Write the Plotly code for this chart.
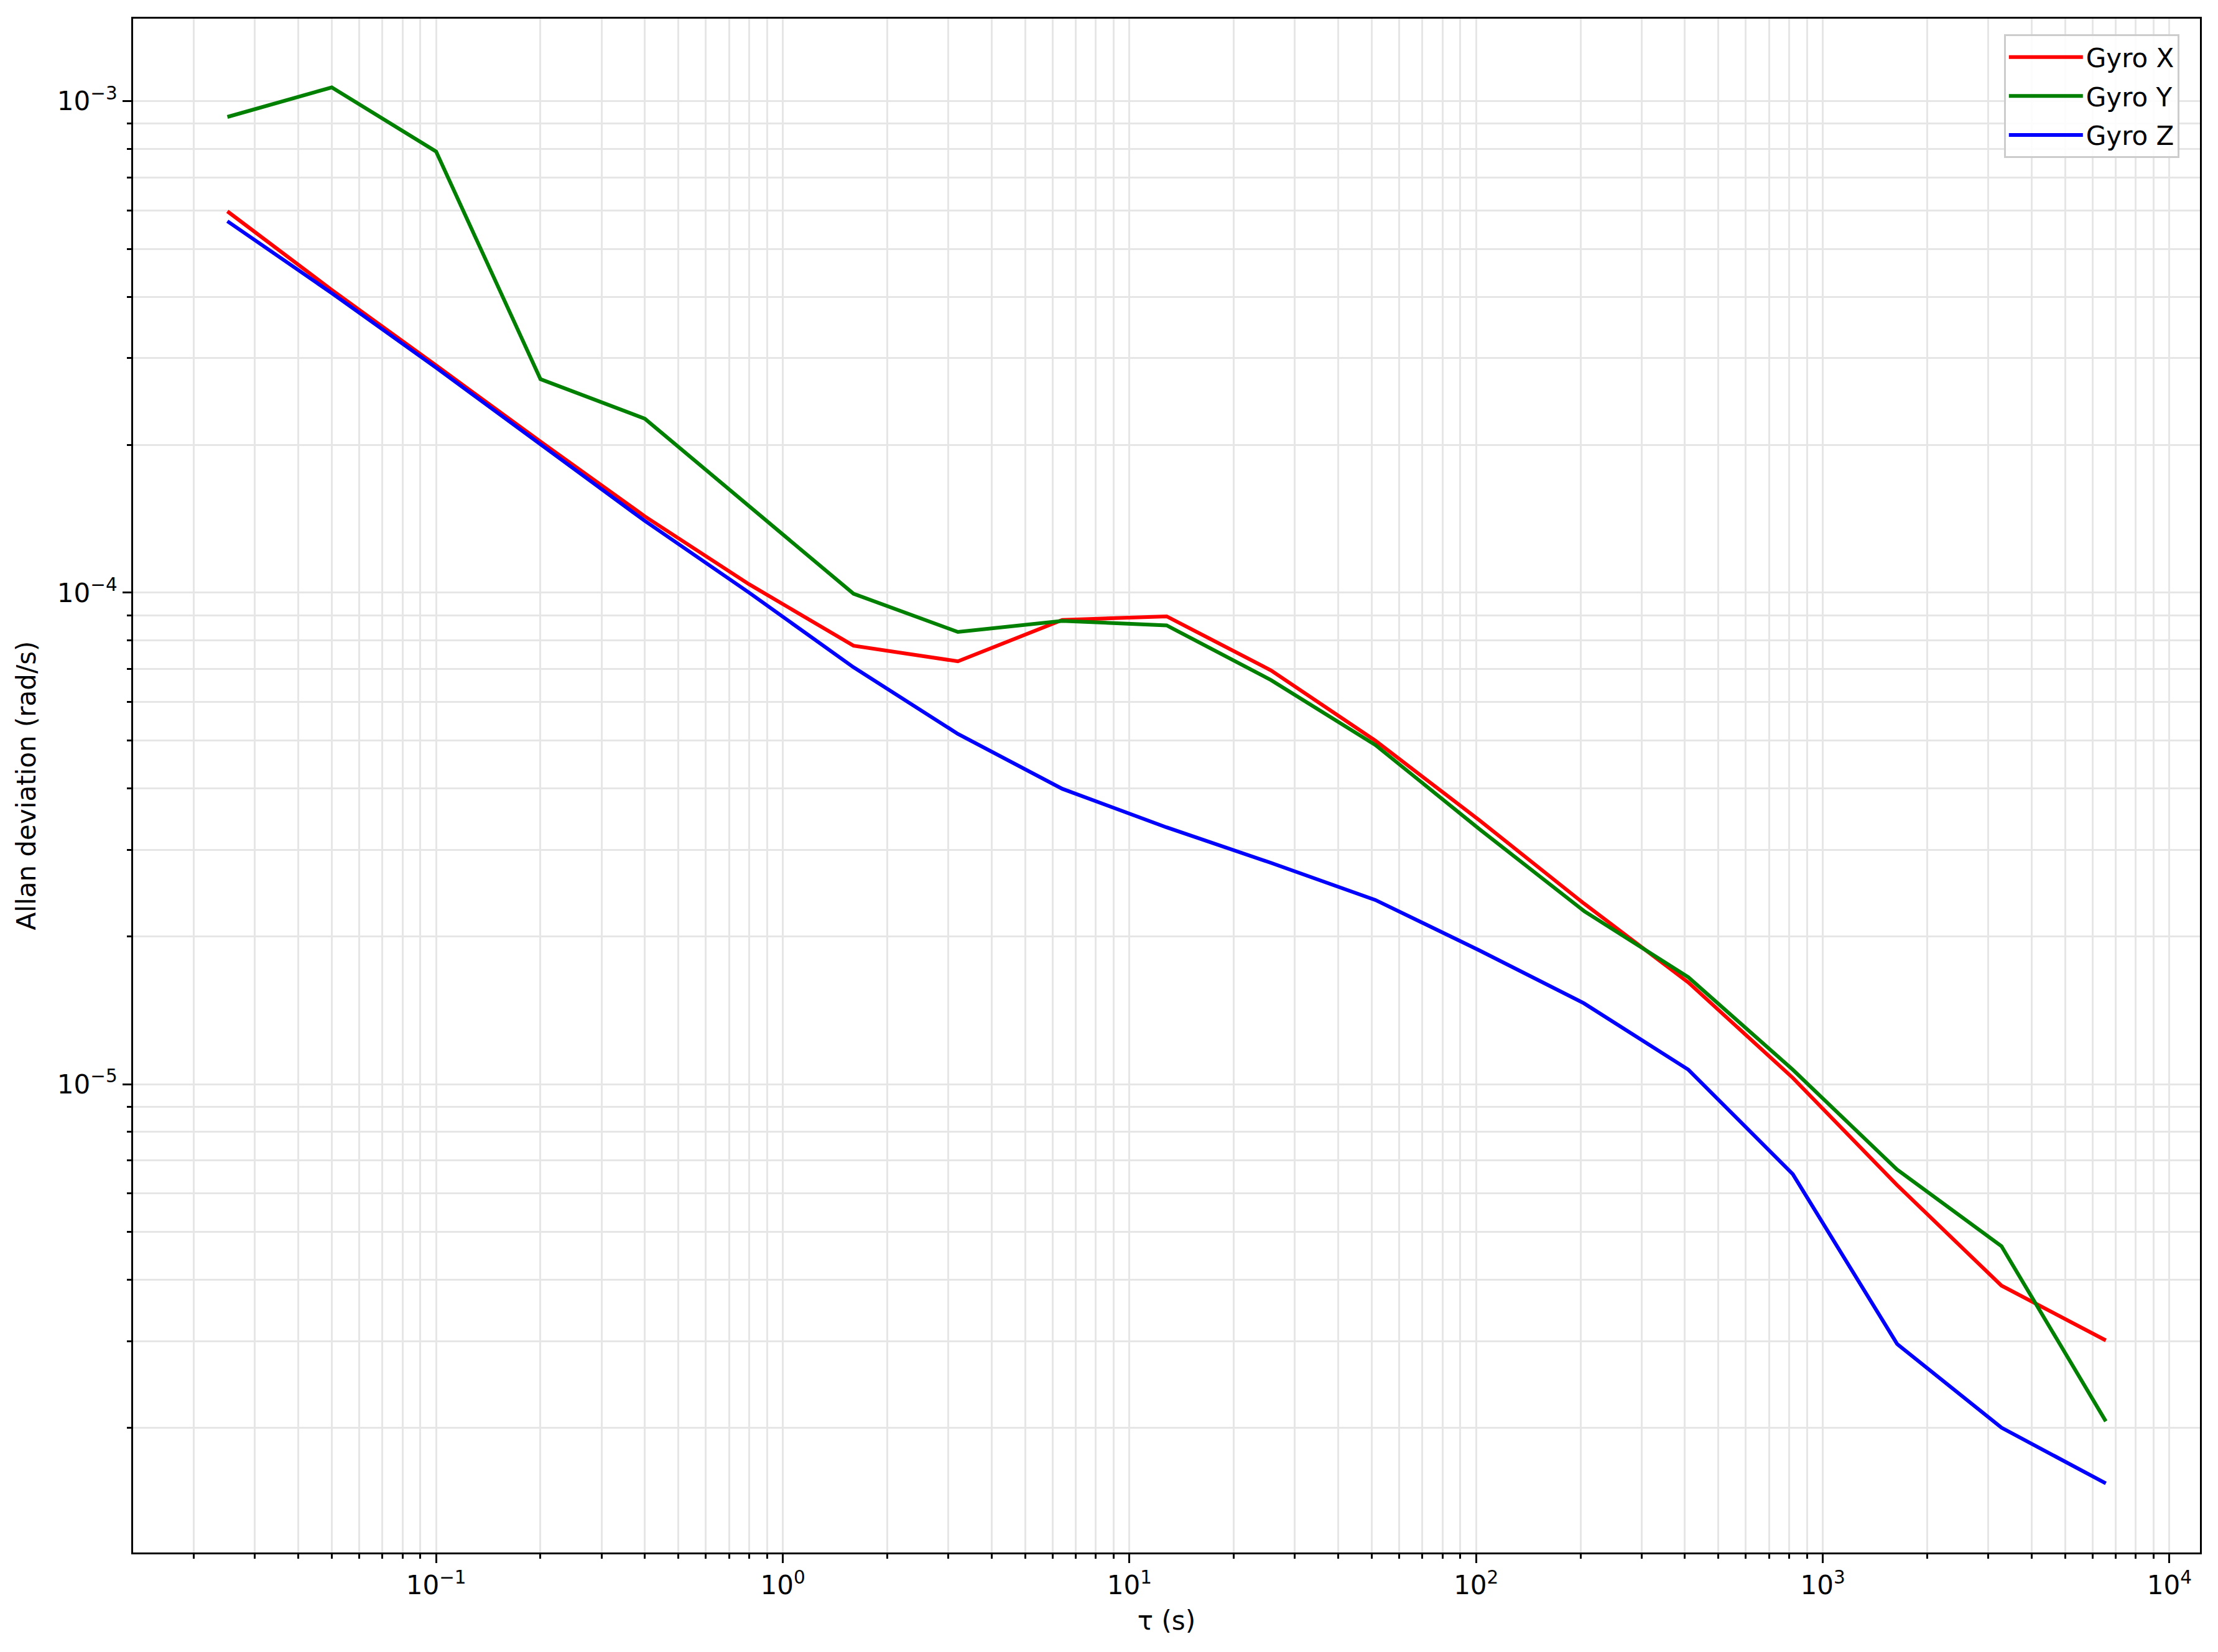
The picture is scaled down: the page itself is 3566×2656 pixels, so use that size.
import plotly.graph_objects as go

tau = [0.025, 0.05, 0.1, 0.2, 0.4, 0.8, 1.6, 3.2, 6.4, 12.8, 25.6, 51.2,
       102.4, 204.8, 409.6, 819.2, 1638.4, 3276.8, 6553.6]

gyro_x = [5.97e-4, 4.13e-4, 2.90e-4, 2.03e-4, 1.43e-4, 1.04e-4, 7.80e-5, 7.25e-5,
          8.80e-5, 8.95e-5, 6.95e-5, 5.00e-5, 3.44e-5, 2.33e-5, 1.61e-5,
          1.03e-5, 6.23e-6, 3.89e-6, 3.01e-6]
gyro_y = [9.29e-4, 1.067e-3, 7.90e-4, 2.72e-4, 2.26e-4, 1.50e-4, 9.95e-5, 8.32e-5,
          8.76e-5, 8.58e-5, 6.64e-5, 4.90e-5, 3.30e-5, 2.25e-5, 1.65e-5,
          1.07e-5, 6.70e-6, 4.68e-6, 2.06e-6]
gyro_z = [5.70e-4, 4.07e-4, 2.87e-4, 2.00e-4, 1.40e-4, 1.00e-4, 7.05e-5, 5.16e-5,
          3.99e-5, 3.33e-5, 2.82e-5, 2.37e-5, 1.87e-5, 1.46e-5, 1.07e-5,
          6.56e-6, 2.96e-6, 2.00e-6, 1.54e-6]

series_names = ["Gyro X", "Gyro Y", "Gyro Z"]
series_colors = ["#ff0000", "#008000", "#0000ff"]

x_major = [0.1, 1, 10, 100, 1000, 10000]
x_major_text = ["10<sup>−1</sup>", "10<sup>0</sup>", "10<sup>1</sup>",
                "10<sup>2</sup>", "10<sup>3</sup>", "10<sup>4</sup>"]
y_major = [1e-5, 1e-4, 1e-3]
y_major_text = ["10<sup>−5</sup>", "10<sup>−4</sup>", "10<sup>−3</sup>"]

x_minor = [m * 10 ** e for e in range(-2, 4) for m in range(2, 10)]
y_minor = [m * 10 ** e for e in range(-6, -3) for m in range(2, 10)]

fig = go.Figure()
for name, ys, col in zip(series_names, [gyro_x, gyro_y, gyro_z], series_colors):
    fig.add_trace(go.Scatter(x=tau, y=ys, mode="lines", name=name,
                             legendgroup=name,
                             line=dict(color=col, width=6)))

grid_col = "#e6e6e6"
font = dict(family="DejaVu Sans", size=42, color="black")

fig.update_layout(
    width=3566, height=2656,
    margin=dict(l=206, r=37, t=22, b=168),
    paper_bgcolor="white", plot_bgcolor="white",
    font=font,
    showlegend=True,
    legend=dict(x=0.990, y=0.9899, xanchor="right", yanchor="top",
                bgcolor="rgba(255,255,255,0.85)", bordercolor="#cccccc",
                borderwidth=3, font=dict(family="DejaVu Sans", size=42),
                itemwidth=119, traceorder="grouped", tracegroupgap=5),
)

fig.update_xaxes(
    type="log", range=[-1.874, 4.088], automargin=False,
    tickmode="array", tickvals=x_major, ticktext=x_major_text,
    ticks="outside", ticklen=14, tickwidth=3, tickcolor="black",
    showline=True, linecolor="black", linewidth=3, mirror=True,
    showgrid=True, gridcolor=grid_col, gridwidth=2.5,
    zeroline=False,
    minor=dict(tickmode="array", tickvals=x_minor, ticks="outside", ticklen=7,
               tickwidth=2.5, tickcolor="black", showgrid=True,
               gridcolor=grid_col, gridwidth=2.5),
    title=dict(text="τ (s)", standoff=19, font=font),
    tickfont=font,
)
fig.update_yaxes(
    type="log", range=[-5.953, -2.832], automargin=False,
    tickmode="array", tickvals=y_major, ticktext=y_major_text,
    ticks="outside", ticklen=14, tickwidth=3, tickcolor="black",
    showline=True, linecolor="black", linewidth=3, mirror=True,
    showgrid=True, gridcolor=grid_col, gridwidth=2.5,
    zeroline=False,
    minor=dict(tickmode="array", tickvals=y_minor, ticks="outside", ticklen=7,
               tickwidth=2.5, tickcolor="black", showgrid=True,
               gridcolor=grid_col, gridwidth=2.5),
    title=dict(text="Allan deviation (rad/s)", standoff=22, font=font),
    tickfont=font,
)

fig.write_html("out.html")
